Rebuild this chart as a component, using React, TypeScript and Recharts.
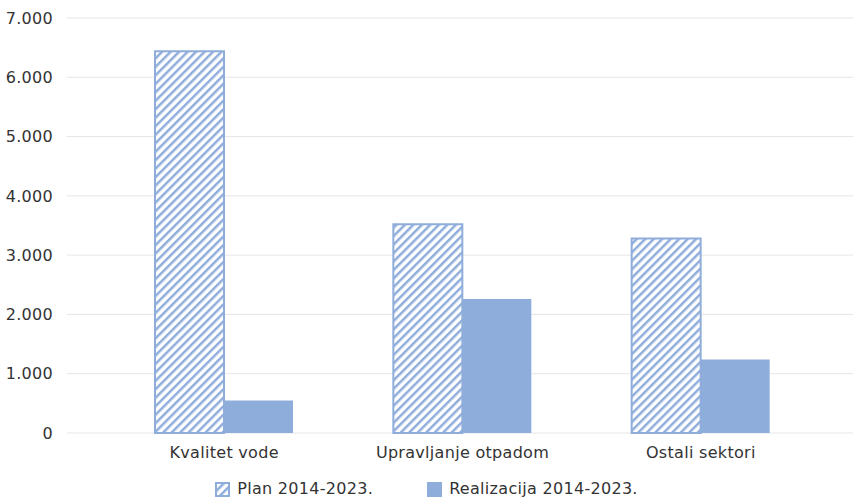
import React from 'react';
import { BarChart, Bar, XAxis, YAxis, CartesianGrid, Legend } from 'recharts';

const categories = ['Kvalitet vode', 'Upravljanje otpadom', 'Ostali sektori'];
const planValues = [6440, 3520, 3280];
const realizacijaValues = [550, 2260, 1240];
const yTicks = [0, 1000, 2000, 3000, 4000, 5000, 6000, 7000];

const BLUE = '#8FADDB';
const FONT = '"DejaVu Sans", sans-serif';
const TEXT = '#333';
const tickStyle = { fill: TEXT, fontSize: 16, fontFamily: FONT, letterSpacing: 0.3 };

const data = categories.map((name, i) => ({
  name,
  plan: planValues[i],
  realizacija: realizacijaValues[i],
}));

const formatThousands = (v: number) => v.toLocaleString('de-DE');

const LegendContent = () => (
  <div
    style={{
      display: 'flex',
      justifyContent: 'center',
      gap: 54,
      fontFamily: FONT,
      fontSize: 16,
      letterSpacing: 0.3,
      color: TEXT,
      lineHeight: '20px',
    }}
  >
    <div style={{ display: 'flex', alignItems: 'center', gap: 7 }}>
      <svg width={15} height={15}>
        <rect x={1} y={1} width={13} height={13} fill="url(#hatch)" stroke={BLUE} strokeWidth={2} />
      </svg>
      <span>Plan 2014-2023.</span>
    </div>
    <div style={{ display: 'flex', alignItems: 'center', gap: 7 }}>
      <svg width={15} height={15}>
        <rect x={0} y={0} width={15} height={15} fill={BLUE} />
      </svg>
      <span>Realizacija 2014-2023.</span>
    </div>
  </div>
);

export default function App() {
  return (
    <div style={{ position: 'absolute', left: 0, top: 0, background: '#fff' }}>
      <BarChart
        width={853}
        height={499}
        data={data}
        margin={{ top: 18, right: 0, bottom: 0, left: 0 }}
        barGap={0}
        barCategoryGap={50}
      >
        <defs>
          <pattern id="hatch" patternUnits="userSpaceOnUse" width={6} height={6} patternTransform="rotate(45)">
            <rect x={0} y={0} width={6} height={6} fill="#fff" />
            <line x1={0} y1={0} x2={0} y2={6} stroke={BLUE} strokeWidth={5} />
          </pattern>
        </defs>
        <CartesianGrid vertical={false} stroke="#e6e6e6" />
        <XAxis
          dataKey="name"
          height={46}
          axisLine={false}
          tickLine={false}
          padding={{ left: 38, right: 33 }}
          tick={tickStyle}
          tickMargin={8}
        />
        <YAxis
          width={67}
          domain={[0, 7000]}
          ticks={yTicks}
          axisLine={false}
          tickLine={false}
          tickFormatter={formatThousands}
          tick={tickStyle}
          tickMargin={8}
        />
        <Legend verticalAlign="bottom" content={<LegendContent />} wrapperStyle={{ height: 20 }} />
        <Bar dataKey="plan" fill="url(#hatch)" stroke={BLUE} strokeWidth={2} isAnimationActive={false} />
        <Bar dataKey="realizacija" fill={BLUE} isAnimationActive={false} />
      </BarChart>
    </div>
  );
}
